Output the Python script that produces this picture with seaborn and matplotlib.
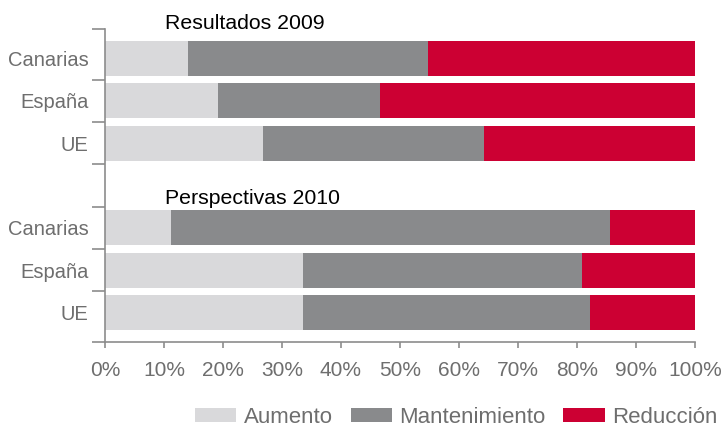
import numpy as np
import pandas as pd
import matplotlib
matplotlib.use("Agg")
import matplotlib.pyplot as plt
from matplotlib.patches import Patch
import seaborn as sns

# Data (percent)
labels = ["Canarias", "España", "UE", "", "Canarias", "España", "UE"]
rows = [0, 1, 2, 4, 5, 6]          # row 3 is the gap between the two blocks
aumento = [14.1, 19.2, 26.8, 11.2, 33.6, 33.6]
mantenimiento = [40.6, 27.4, 37.4, 74.4, 47.2, 48.6]
reduccion = [45.3, 53.4, 35.8, 14.4, 19.2, 17.8]
series = ["Aumento", "Mantenimiento", "Reducción"]
colors = ["#d9d9db", "#898a8c", "#cc0033"]
blocks = ["Resultados 2009", "Perspectivas 2010"]

df = pd.DataFrame({"row": rows, "a": aumento, "m": mantenimiento, "r": reduccion})
df["cum_a"] = df["a"]
df["cum_m"] = df["a"] + df["m"]
df["cum_r"] = df["a"] + df["m"] + df["r"]

sns.set_style("white")
plt.rcParams["font.family"] = ["Liberation Sans", "DejaVu Sans"]

fig = plt.figure(figsize=(7.25, 4.32), dpi=100)
ax = fig.add_axes([0.1448, 0.2083, 0.8138, 0.7246])

# stacked bars: draw totals first, then overlay shorter cumulative segments
for col, c in zip(["cum_r", "cum_m", "cum_a"], colors[::-1]):
    sns.barplot(data=df, x=col, y="row", orient="h", native_scale=True,
                color=c, width=0.83, saturation=1, linewidth=0, ax=ax)

ax.set_xlim(0, 100)
ax.set_ylim(6.7, -0.7)
ax.set_xlabel("")
ax.set_ylabel("")

grey = "#8c8c8c"
txt = "#6e6e6e"
for s in ["top", "right"]:
    ax.spines[s].set_visible(False)
for s in ["left", "bottom"]:
    ax.spines[s].set_color(grey)
    ax.spines[s].set_linewidth(1.2)

ax.set_xticks(np.arange(0, 101, 10))
ax.set_xticklabels([f"{v}%" for v in range(0, 101, 10)])
ax.tick_params(axis="x", length=4.5, width=1.2, color=grey, labelcolor=txt,
               labelsize=15, pad=9, direction="out", bottom=True)

ax.set_yticks(range(len(labels)))
ax.set_yticklabels(labels)
ax.tick_params(axis="y", which="major", length=0, labelcolor=txt,
               labelsize=14.5, pad=12, left=True)
ax.set_yticks([-0.7, 0.5, 1.5, 2.5, 3.5, 4.5, 5.5, 6.7], minor=True)
ax.tick_params(axis="y", which="minor", length=9.5, width=1.2, color=grey,
               direction="out", left=True)

ax.text(10.2, -0.84, blocks[0], fontsize=15.3, color="black", va="center",
        ha="left", clip_on=False)
ax.text(10.2, 3.3, blocks[1], fontsize=15.3, color="black", va="center",
        ha="left", clip_on=False)

handles = [Patch(facecolor=c, edgecolor="none", label=s) for s, c in zip(series, colors)]
leg = fig.legend(handles=handles, loc="center right", bbox_to_anchor=(0.99, 0.034),
                 ncol=3, frameon=False, fontsize=16, handlelength=1.85,
                 handleheight=0.55, handletextpad=0.35, columnspacing=0.8,
                 borderpad=0, borderaxespad=0)
for t in leg.get_texts():
    t.set_color(txt)

fig.savefig("out.png", dpi=100)
